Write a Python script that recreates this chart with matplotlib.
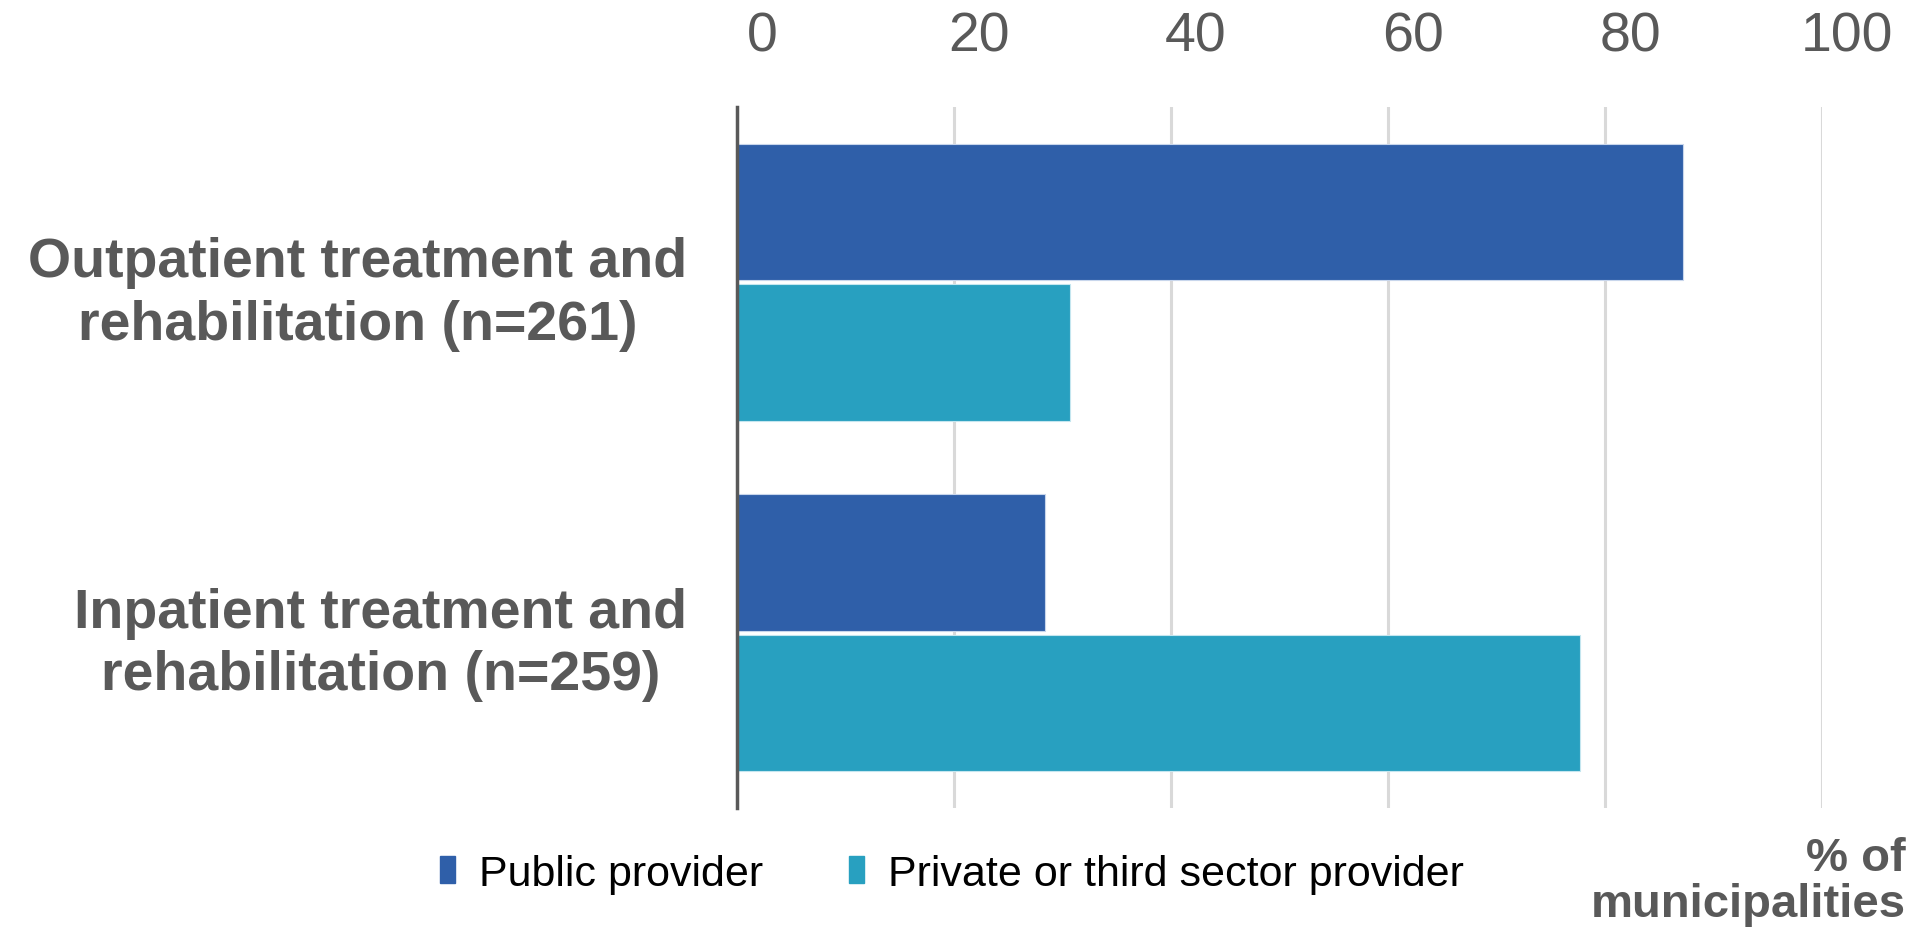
import numpy as np
import matplotlib
matplotlib.use("Agg")
import matplotlib.pyplot as plt
import matplotlib.transforms as mtransforms
from matplotlib.patches import Rectangle

# ── Data ──────────────────────────────────────────────────────────────────────
categories = ["Outpatient treatment and\nrehabilitation (n=261)",
              "Inpatient treatment and\nrehabilitation (n=259)"]
series_names = ["Public provider", "Private or third sector provider"]
public_vals = [87.2, 28.4]
private_vals = [30.7, 77.7]
x_ticks = [0, 20, 40, 60, 80, 100]

# ── Style ─────────────────────────────────────────────────────────────────────
plt.rcParams['font.family'] = ['Liberation Sans', 'DejaVu Sans']
TEXT_GREY = '#595959'
GRID_GREY = '#d9d9d9'
COLORS = ['#2f5fa9', '#28a0c0']

fig = plt.figure(figsize=(19.23, 9.29), dpi=100)
ax = fig.add_axes([737 / 1923, 1 - 809 / 929, (1822 - 737) / 1923, (809 - 108) / 929])

y = np.arange(len(categories))
h = 0.39
ax.barh(y - 0.2, public_vals, height=h, color=COLORS[0],
        edgecolor='#c8d6ec', linewidth=0.8, zorder=3)
ax.barh(y + 0.2, private_vals, height=h, color=COLORS[1],
        edgecolor='#c4e6ef', linewidth=0.8, zorder=3)

ax.set_xlim(0, 100)
ax.set_ylim(1.5, -0.5)

# value axis on top, no tick marks
ax.xaxis.tick_top()
ax.set_xticks(x_ticks)
ax.set_xticklabels([str(t) for t in x_ticks])
ax.tick_params(axis='x', length=0, pad=32, labelsize=40, labelcolor=TEXT_GREY)
# numbers sit a little to the right of their gridlines
shift = mtransforms.ScaledTranslation(25 / 100, 0, fig.dpi_scale_trans)
for lbl in ax.get_xticklabels():
    lbl.set_transform(lbl.get_transform() + shift)
ax.grid(True, axis='x', color=GRID_GREY, linewidth=2.2, zorder=0)

ax.set_yticks(y)
ax.set_yticklabels(categories, fontsize=40, fontweight='bold', color=TEXT_GREY,
                   linespacing=1.26, multialignment='center')
ax.tick_params(axis='y', length=0, pad=36)

for side in ('top', 'right', 'bottom'):
    ax.spines[side].set_visible(False)
ax.spines['left'].set_color(TEXT_GREY)
ax.spines['left'].set_linewidth(2.5)
ax.spines['left'].set_zorder(4)

# ── Legend ────────────────────────────────────────────────────────────────────
handles = [Rectangle((0, 0), 1, 1, color=c) for c in COLORS]
fig.legend(handles, series_names, loc='center left',
           bbox_to_anchor=(440 / 1923, 1 - 875 / 929), ncol=2, frameon=False,
           fontsize=31, handlelength=0.35, handleheight=0.6,
           handletextpad=0.55, columnspacing=2.0, borderpad=0, borderaxespad=0,
           labelcolor='#000000')

fig.text(1906 / 1923, 1 - 882 / 929, "% of\nmunicipalities", ha='right', va='center',
         multialignment='right', fontsize=34, fontweight='bold', color=TEXT_GREY,
         linespacing=1.08)

fig.savefig("out.png", dpi=100, facecolor='white')
